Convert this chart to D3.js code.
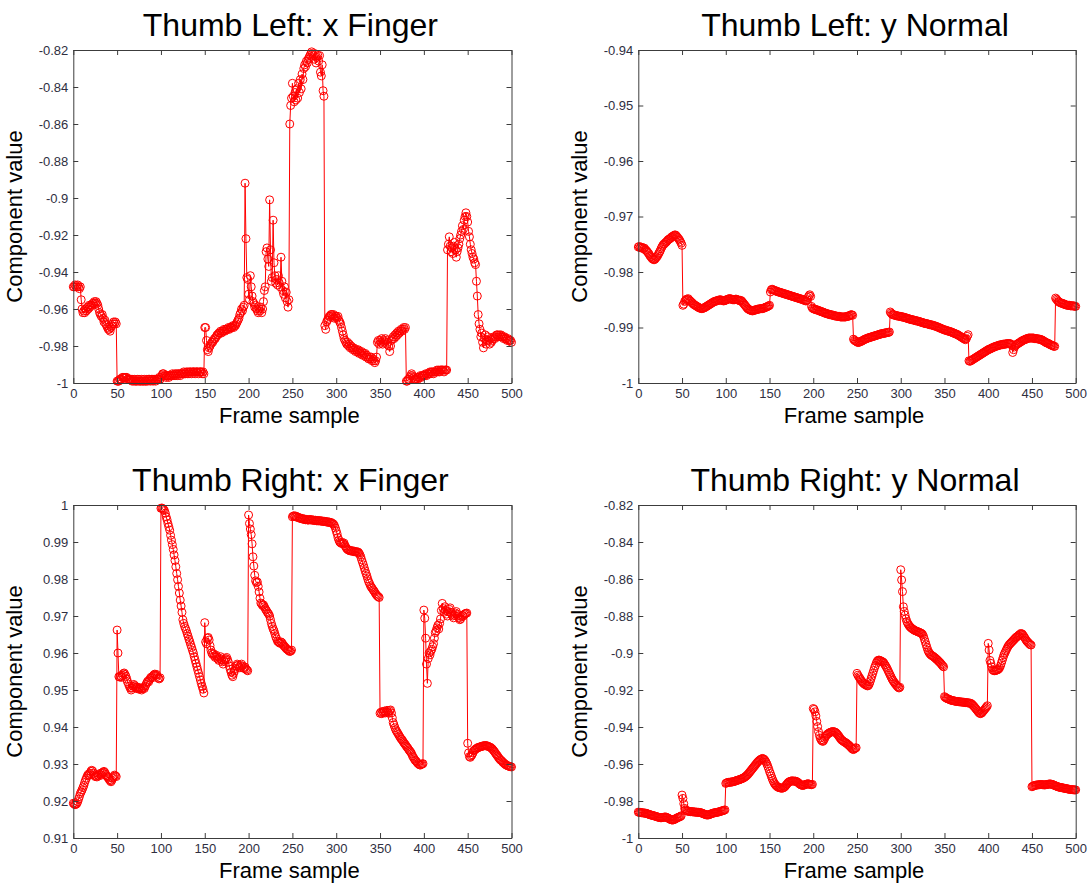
<!DOCTYPE html>
<html>
<head>
<meta charset="utf-8">
<script src="https://cdn.jsdelivr.net/npm/d3@7"></script>
<style>
  body { margin: 0; background: #ffffff; }
  svg { display: block; }
</style>
</head>
<body>
<svg id="fig" width="1090" height="884"></svg>
<script>
// Frame sample index, one reading per frame
const frames = d3.range(0, 501);

// Thumb Left: x Finger component
const thumbLeftX = [
  -0.948,-0.948,-0.947,-0.948,-0.948,-0.947,-0.948,-0.949,-0.948,-0.955,
  -0.960,-0.962,-0.961,-0.962,-0.960,-0.961,-0.959,-0.960,-0.958,-0.959,
  -0.958,-0.958,-0.957,-0.957,-0.956,-0.957,-0.956,-0.957,-0.958,-0.960,
  -0.962,-0.963,-0.964,-0.963,-0.965,-0.967,-0.966,-0.968,-0.969,-0.970,
  -0.971,-0.971,-0.972,-0.970,-0.969,-0.968,-0.967,-0.968,-0.967,-0.968,
  -0.999,-0.999,-0.999,-0.998,-0.998,-0.998,-0.997,-0.997,-0.997,-0.997,
  -0.997,-0.997,-0.998,-0.998,-0.998,-0.998,-0.998,-0.999,-0.998,-0.999,
  -0.998,-0.999,-0.999,-0.998,-0.999,-0.998,-0.999,-0.999,-0.998,-0.999,
  -0.999,-0.998,-0.999,-0.999,-0.998,-0.999,-0.998,-0.998,-0.999,-0.998,
  -0.998,-0.999,-0.998,-0.998,-0.999,-0.998,-0.998,-0.998,-0.997,-0.998,
  -0.997,-0.996,-0.995,-0.995,-0.996,-0.996,-0.997,-0.996,-0.996,-0.997,
  -0.996,-0.996,-0.996,-0.995,-0.996,-0.996,-0.995,-0.996,-0.995,-0.996,
  -0.995,-0.995,-0.996,-0.995,-0.995,-0.995,-0.994,-0.995,-0.995,-0.994,
  -0.995,-0.994,-0.995,-0.994,-0.994,-0.995,-0.994,-0.994,-0.994,-0.995,
  -0.994,-0.994,-0.994,-0.995,-0.994,-0.994,-0.994,-0.995,-0.994,-0.995,
  -0.970,-0.970,-0.977,-0.982,-0.983,-0.981,-0.980,-0.979,-0.978,-0.978,
  -0.977,-0.976,-0.976,-0.975,-0.974,-0.974,-0.973,-0.973,-0.972,-0.973,
  -0.972,-0.972,-0.971,-0.972,-0.971,-0.971,-0.971,-0.970,-0.971,-0.970,
  -0.970,-0.970,-0.969,-0.970,-0.969,-0.969,-0.968,-0.967,-0.966,-0.965,
  -0.963,-0.962,-0.960,-0.961,-0.959,-0.958,-0.892,-0.922,-0.943,-0.944,
  -0.952,-0.955,-0.942,-0.948,-0.953,-0.956,-0.957,-0.959,-0.958,-0.960,
  -0.961,-0.962,-0.960,-0.961,-0.959,-0.962,-0.960,-0.956,-0.950,-0.948,
  -0.929,-0.927,-0.933,-0.937,-0.901,-0.928,-0.945,-0.943,-0.912,-0.935,
  -0.942,-0.946,-0.944,-0.947,-0.942,-0.946,-0.948,-0.932,-0.945,-0.950,
  -0.952,-0.948,-0.954,-0.951,-0.956,-0.959,-0.955,-0.860,-0.850,-0.846,
  -0.838,-0.845,-0.848,-0.843,-0.847,-0.841,-0.846,-0.838,-0.843,-0.836,
  -0.841,-0.833,-0.836,-0.830,-0.828,-0.829,-0.826,-0.827,-0.825,-0.824,
  -0.823,-0.822,-0.821,-0.822,-0.823,-0.825,-0.822,-0.827,-0.824,-0.823,
  -0.826,-0.823,-0.832,-0.834,-0.828,-0.842,-0.845,-0.969,-0.971,-0.967,
  -0.966,-0.965,-0.964,-0.964,-0.963,-0.963,-0.964,-0.963,-0.965,-0.964,
  -0.964,-0.965,-0.964,-0.966,-0.967,-0.968,-0.970,-0.972,-0.974,-0.976,
  -0.977,-0.978,-0.979,-0.978,-0.980,-0.979,-0.981,-0.980,-0.981,-0.982,
  -0.981,-0.982,-0.983,-0.982,-0.983,-0.982,-0.984,-0.983,-0.984,-0.983,
  -0.985,-0.984,-0.985,-0.984,-0.986,-0.985,-0.986,-0.987,-0.986,-0.987,
  -0.986,-0.988,-0.987,-0.988,-0.989,-0.988,-0.986,-0.978,-0.977,-0.979,
  -0.977,-0.978,-0.976,-0.979,-0.977,-0.978,-0.976,-0.977,-0.979,-0.978,
  -0.980,-0.983,-0.980,-0.977,-0.976,-0.975,-0.976,-0.974,-0.975,-0.973,
  -0.974,-0.972,-0.973,-0.972,-0.971,-0.972,-0.971,-0.970,-0.971,-0.970,
  -0.999,-0.999,-0.998,-0.998,-0.997,-0.996,-0.995,-0.996,-0.997,-0.998,
  -0.998,-0.998,-0.997,-0.998,-0.997,-0.997,-0.996,-0.997,-0.996,-0.996,
  -0.996,-0.996,-0.995,-0.996,-0.995,-0.995,-0.995,-0.994,-0.995,-0.994,
  -0.994,-0.995,-0.994,-0.994,-0.994,-0.993,-0.994,-0.993,-0.994,-0.993,
  -0.993,-0.993,-0.993,-0.994,-0.993,-0.993,-0.993,-0.928,-0.925,-0.921,
  -0.926,-0.929,-0.927,-0.930,-0.926,-0.924,-0.928,-0.932,-0.929,-0.927,
  -0.925,-0.922,-0.920,-0.918,-0.915,-0.917,-0.912,-0.910,-0.908,-0.910,
  -0.913,-0.918,-0.921,-0.925,-0.928,-0.930,-0.932,-0.933,-0.935,-0.936,
  -0.945,-0.953,-0.963,-0.968,-0.971,-0.975,-0.973,-0.978,-0.981,-0.976,
  -0.974,-0.979,-0.977,-0.975,-0.977,-0.979,-0.976,-0.978,-0.977,-0.976,
  -0.975,-0.976,-0.975,-0.974,-0.974,-0.975,-0.974,-0.975,-0.974,-0.975,
  -0.975,-0.976,-0.975,-0.976,-0.976,-0.977,-0.976,-0.977,-0.977,-0.977,-0.978
];

// Thumb Left: y Normal component
const thumbLeftY = [
  -0.9755,-0.9754,-0.9756,-0.9755,-0.9757,-0.9756,-0.9758,-0.9757,-0.9760,-0.9761,
  -0.9763,-0.9765,-0.9767,-0.9770,-0.9772,-0.9774,-0.9776,-0.9777,-0.9778,-0.9777,
  -0.9775,-0.9773,-0.9771,-0.9768,-0.9765,-0.9762,-0.9758,-0.9755,-0.9752,-0.9750,
  -0.9749,-0.9747,-0.9746,-0.9744,-0.9742,-0.9741,-0.9740,-0.9739,-0.9737,-0.9736,
  -0.9735,-0.9734,-0.9733,-0.9734,-0.9736,-0.9738,-0.9740,-0.9742,-0.9745,-0.9748,
  -0.9752,-0.9860,-0.9858,-0.9853,-0.9851,-0.9849,-0.9850,-0.9848,-0.9850,-0.9852,
  -0.9853,-0.9855,-0.9856,-0.9858,-0.9859,-0.9860,-0.9861,-0.9862,-0.9863,-0.9864,
  -0.9865,-0.9865,-0.9866,-0.9866,-0.9865,-0.9865,-0.9864,-0.9863,-0.9862,-0.9861,
  -0.9860,-0.9859,-0.9858,-0.9857,-0.9856,-0.9855,-0.9854,-0.9853,-0.9853,-0.9852,
  -0.9852,-0.9851,-0.9851,-0.9850,-0.9850,-0.9851,-0.9851,-0.9852,-0.9852,-0.9851,
  -0.9851,-0.9850,-0.9849,-0.9849,-0.9848,-0.9848,-0.9849,-0.9849,-0.9850,-0.9850,
  -0.9850,-0.9849,-0.9849,-0.9850,-0.9850,-0.9851,-0.9852,-0.9851,-0.9852,-0.9854,
  -0.9856,-0.9858,-0.9860,-0.9862,-0.9864,-0.9866,-0.9867,-0.9868,-0.9869,-0.9869,
  -0.9870,-0.9870,-0.9869,-0.9869,-0.9868,-0.9868,-0.9867,-0.9867,-0.9867,-0.9866,
  -0.9866,-0.9866,-0.9866,-0.9865,-0.9865,-0.9864,-0.9863,-0.9863,-0.9862,-0.9861,
  -0.9860,-0.9836,-0.9832,-0.9831,-0.9832,-0.9833,-0.9833,-0.9834,-0.9835,-0.9835,
  -0.9836,-0.9836,-0.9837,-0.9837,-0.9838,-0.9838,-0.9839,-0.9839,-0.9840,-0.9840,
  -0.9841,-0.9841,-0.9842,-0.9842,-0.9843,-0.9843,-0.9844,-0.9844,-0.9845,-0.9845,
  -0.9846,-0.9846,-0.9847,-0.9847,-0.9848,-0.9848,-0.9849,-0.9849,-0.9850,-0.9850,
  -0.9851,-0.9852,-0.9852,-0.9850,-0.9846,-0.9843,-0.9841,-0.9844,-0.9862,-0.9865,
  -0.9866,-0.9867,-0.9867,-0.9868,-0.9868,-0.9869,-0.9869,-0.9870,-0.9871,-0.9871,
  -0.9872,-0.9872,-0.9873,-0.9874,-0.9874,-0.9875,-0.9875,-0.9876,-0.9876,-0.9877,
  -0.9877,-0.9877,-0.9878,-0.9878,-0.9879,-0.9879,-0.9879,-0.9880,-0.9880,-0.9880,
  -0.9880,-0.9881,-0.9881,-0.9881,-0.9881,-0.9881,-0.9881,-0.9881,-0.9880,-0.9880,
  -0.9880,-0.9879,-0.9878,-0.9877,-0.9877,-0.9878,-0.9921,-0.9923,-0.9924,-0.9925,
  -0.9926,-0.9927,-0.9927,-0.9926,-0.9925,-0.9925,-0.9924,-0.9923,-0.9922,-0.9921,
  -0.9921,-0.9920,-0.9919,-0.9919,-0.9918,-0.9918,-0.9917,-0.9917,-0.9916,-0.9916,
  -0.9915,-0.9915,-0.9914,-0.9914,-0.9913,-0.9913,-0.9912,-0.9912,-0.9911,-0.9911,
  -0.9911,-0.9910,-0.9910,-0.9910,-0.9909,-0.9909,-0.9909,-0.9908,-0.9872,-0.9874,
  -0.9876,-0.9877,-0.9877,-0.9878,-0.9878,-0.9879,-0.9879,-0.9879,-0.9880,-0.9880,
  -0.9880,-0.9881,-0.9881,-0.9881,-0.9882,-0.9882,-0.9883,-0.9883,-0.9884,-0.9884,
  -0.9885,-0.9885,-0.9886,-0.9886,-0.9886,-0.9887,-0.9887,-0.9888,-0.9888,-0.9888,
  -0.9889,-0.9889,-0.9890,-0.9890,-0.9891,-0.9891,-0.9892,-0.9892,-0.9893,-0.9893,
  -0.9893,-0.9894,-0.9894,-0.9895,-0.9895,-0.9895,-0.9896,-0.9896,-0.9897,-0.9897,
  -0.9898,-0.9898,-0.9899,-0.9900,-0.9900,-0.9901,-0.9902,-0.9902,-0.9903,-0.9904,
  -0.9904,-0.9905,-0.9905,-0.9906,-0.9906,-0.9907,-0.9907,-0.9908,-0.9908,-0.9909,
  -0.9910,-0.9910,-0.9911,-0.9912,-0.9912,-0.9913,-0.9914,-0.9915,-0.9916,-0.9917,
  -0.9918,-0.9919,-0.9920,-0.9921,-0.9922,-0.9920,-0.9916,-0.9913,-0.9960,-0.9961,
  -0.9960,-0.9959,-0.9958,-0.9957,-0.9956,-0.9955,-0.9954,-0.9953,-0.9952,-0.9951,
  -0.9950,-0.9949,-0.9948,-0.9947,-0.9946,-0.9945,-0.9944,-0.9943,-0.9942,-0.9941,
  -0.9940,-0.9939,-0.9939,-0.9938,-0.9937,-0.9936,-0.9936,-0.9935,-0.9934,-0.9934,
  -0.9933,-0.9933,-0.9932,-0.9932,-0.9931,-0.9931,-0.9931,-0.9930,-0.9930,-0.9930,
  -0.9930,-0.9929,-0.9929,-0.9929,-0.9929,-0.9929,-0.9930,-0.9932,-0.9945,-0.9940,
  -0.9935,-0.9933,-0.9931,-0.9930,-0.9929,-0.9928,-0.9927,-0.9926,-0.9925,-0.9924,
  -0.9923,-0.9922,-0.9922,-0.9921,-0.9920,-0.9920,-0.9919,-0.9919,-0.9919,-0.9919,
  -0.9919,-0.9919,-0.9919,-0.9920,-0.9920,-0.9920,-0.9920,-0.9921,-0.9921,-0.9921,
  -0.9922,-0.9922,-0.9923,-0.9924,-0.9925,-0.9926,-0.9927,-0.9928,-0.9928,-0.9929,
  -0.9930,-0.9931,-0.9932,-0.9932,-0.9933,-0.9934,-0.9934,-0.9847,-0.9849,-0.9851,
  -0.9853,-0.9854,-0.9855,-0.9856,-0.9856,-0.9857,-0.9857,-0.9858,-0.9859,-0.9859,
  -0.9860,-0.9860,-0.9860,-0.9860,-0.9861,-0.9861,-0.9861,-0.9861,-0.9861,-0.9862,-0.9862
];

// Thumb Right: x Finger component
const thumbRightX = [
  0.9194,0.9192,0.9190,0.9191,0.9193,0.9198,0.9205,0.9212,0.9220,0.9225,
  0.9230,0.9236,0.9242,0.9250,0.9257,0.9262,0.9268,0.9272,0.9270,0.9275,
  0.9280,0.9283,0.9281,0.9275,0.9270,0.9266,0.9268,0.9265,0.9270,0.9268,
  0.9272,0.9275,0.9270,0.9276,0.9278,0.9280,0.9277,0.9272,0.9268,0.9265,
  0.9262,0.9258,0.9255,0.9252,0.9256,0.9262,0.9266,0.9270,0.9268,0.9266,
  0.9662,0.9600,0.9536,0.9535,0.9538,0.9534,0.9540,0.9544,0.9546,0.9542,
  0.9537,0.9530,0.9522,0.9516,0.9510,0.9505,0.9500,0.9505,0.9510,0.9515,
  0.9512,0.9508,0.9504,0.9508,0.9505,0.9502,0.9506,0.9503,0.9500,0.9504,
  0.9507,0.9504,0.9510,0.9515,0.9520,0.9524,0.9522,0.9528,0.9532,0.9535,
  0.9533,0.9538,0.9541,0.9543,0.9540,0.9542,0.9537,0.9532,0.9530,0.9533,
  0.9991,0.9992,0.9990,0.9988,0.9985,0.9978,0.9968,0.9960,0.9950,0.9941,
  0.9932,0.9918,0.9905,0.9893,0.9880,0.9865,0.9850,0.9833,0.9815,0.9798,
  0.9780,0.9762,0.9743,0.9727,0.9710,0.9690,0.9680,0.9672,0.9666,0.9660,
  0.9652,0.9645,0.9637,0.9630,0.9622,0.9615,0.9607,0.9600,0.9590,0.9581,
  0.9572,0.9563,0.9554,0.9545,0.9536,0.9527,0.9518,0.9510,0.9502,0.9492,
  0.9682,0.9630,0.9625,0.9640,0.9642,0.9635,0.9620,0.9608,0.9600,0.9596,
  0.9598,0.9592,0.9588,0.9594,0.9590,0.9584,0.9580,0.9586,0.9590,0.9582,
  0.9576,0.9570,0.9578,0.9582,0.9585,0.9588,0.9582,0.9575,0.9565,0.9556,
  0.9548,0.9540,0.9536,0.9545,0.9552,0.9558,0.9565,0.9570,0.9567,0.9562,
  0.9560,0.9566,0.9570,0.9565,0.9560,0.9558,0.9562,0.9557,0.9554,0.9552,
  0.9973,0.9950,0.9935,0.9920,0.9895,0.9860,0.9835,0.9810,0.9795,0.9790,
  0.9792,0.9780,0.9765,0.9748,0.9735,0.9732,0.9728,0.9730,0.9725,0.9720,
  0.9716,0.9712,0.9708,0.9705,0.9700,0.9690,0.9680,0.9672,0.9665,0.9660,
  0.9652,0.9644,0.9638,0.9632,0.9630,0.9628,0.9626,0.9630,0.9628,0.9624,
  0.9620,0.9618,0.9615,0.9612,0.9610,0.9608,0.9606,0.9604,0.9605,0.9608,
  0.9968,0.9970,0.9971,0.9969,0.9970,0.9968,0.9966,0.9967,0.9965,0.9964,
  0.9963,0.9964,0.9962,0.9961,0.9962,0.9960,0.9961,0.9960,0.9959,0.9960,
  0.9961,0.9960,0.9959,0.9960,0.9959,0.9958,0.9959,0.9958,0.9957,0.9958,
  0.9957,0.9958,0.9957,0.9956,0.9957,0.9956,0.9955,0.9956,0.9955,0.9954,
  0.9955,0.9953,0.9954,0.9952,0.9953,0.9951,0.9950,0.9948,0.9944,0.9938,
  0.9930,0.9922,0.9912,0.9905,0.9900,0.9898,0.9896,0.9899,0.9895,0.9897,
  0.9890,0.9886,0.9882,0.9880,0.9878,0.9877,0.9876,0.9877,0.9875,0.9876,
  0.9874,0.9875,0.9873,0.9874,0.9872,0.9873,0.9870,0.9866,0.9860,0.9852,
  0.9845,0.9838,0.9830,0.9822,0.9815,0.9808,0.9800,0.9793,0.9788,0.9782,
  0.9778,0.9775,0.9771,0.9768,0.9764,0.9760,0.9757,0.9754,0.9752,0.9750,
  0.9437,0.9440,0.9436,0.9442,0.9439,0.9443,0.9438,0.9441,0.9445,0.9440,
  0.9437,0.9444,0.9446,0.9438,0.9425,0.9412,0.9405,0.9398,0.9392,0.9388,
  0.9384,0.9380,0.9376,0.9372,0.9368,0.9366,0.9362,0.9358,0.9355,0.9352,
  0.9348,0.9345,0.9342,0.9338,0.9335,0.9332,0.9328,0.9322,0.9318,0.9314,
  0.9310,0.9308,0.9305,0.9302,0.9300,0.9298,0.9297,0.9299,0.9300,0.9301,
  0.9716,0.9694,0.9640,0.9570,0.9518,0.9585,0.9600,0.9595,0.9605,0.9610,
  0.9617,0.9625,0.9640,0.9655,0.9660,0.9668,0.9675,0.9665,0.9680,0.9692,
  0.9715,0.9734,0.9720,0.9710,0.9725,0.9715,0.9705,0.9700,0.9712,0.9718,
  0.9722,0.9710,0.9705,0.9700,0.9695,0.9702,0.9708,0.9712,0.9705,0.9700,
  0.9695,0.9690,0.9692,0.9698,0.9702,0.9700,0.9704,0.9706,0.9707,0.9708,
  0.9356,0.9330,0.9320,0.9318,0.9322,0.9325,0.9330,0.9336,0.9338,0.9340,
  0.9342,0.9343,0.9345,0.9345,0.9346,0.9347,0.9348,0.9348,0.9349,0.9350,
  0.9349,0.9350,0.9349,0.9348,0.9347,0.9346,0.9345,0.9343,0.9341,0.9338,
  0.9335,0.9332,0.9328,0.9325,0.9322,0.9318,0.9315,0.9312,0.9310,0.9308,
  0.9305,0.9303,0.9301,0.9299,0.9297,0.9296,0.9295,0.9294,0.9293,0.9293,0.9292
];

// Thumb Right: y Normal component
const thumbRightY = [
  -0.9860,-0.9862,-0.9861,-0.9863,-0.9864,-0.9863,-0.9865,-0.9866,-0.9865,-0.9867,
  -0.9868,-0.9870,-0.9872,-0.9874,-0.9875,-0.9876,-0.9878,-0.9879,-0.9880,-0.9882,
  -0.9883,-0.9885,-0.9886,-0.9888,-0.9889,-0.9890,-0.9891,-0.9890,-0.9889,-0.9888,
  -0.9887,-0.9886,-0.9888,-0.9890,-0.9892,-0.9895,-0.9898,-0.9900,-0.9902,-0.9903,
  -0.9902,-0.9900,-0.9898,-0.9895,-0.9892,-0.9890,-0.9888,-0.9886,-0.9884,-0.9880,
  -0.9768,-0.9786,-0.9815,-0.9840,-0.9848,-0.9852,-0.9854,-0.9856,-0.9855,-0.9857,
  -0.9858,-0.9857,-0.9859,-0.9858,-0.9860,-0.9859,-0.9861,-0.9860,-0.9862,-0.9861,
  -0.9862,-0.9863,-0.9864,-0.9866,-0.9868,-0.9870,-0.9872,-0.9874,-0.9875,-0.9876,
  -0.9875,-0.9874,-0.9872,-0.9870,-0.9868,-0.9866,-0.9865,-0.9864,-0.9863,-0.9862,
  -0.9861,-0.9860,-0.9859,-0.9858,-0.9856,-0.9854,-0.9853,-0.9852,-0.9850,-0.9848,
  -0.9705,-0.9702,-0.9700,-0.9699,-0.9700,-0.9698,-0.9697,-0.9698,-0.9696,-0.9695,
  -0.9694,-0.9692,-0.9690,-0.9688,-0.9687,-0.9686,-0.9684,-0.9682,-0.9680,-0.9678,
  -0.9676,-0.9673,-0.9670,-0.9666,-0.9662,-0.9657,-0.9652,-0.9646,-0.9640,-0.9634,
  -0.9628,-0.9622,-0.9616,-0.9610,-0.9604,-0.9598,-0.9592,-0.9587,-0.9582,-0.9578,
  -0.9575,-0.9572,-0.9570,-0.9572,-0.9576,-0.9582,-0.9590,-0.9600,-0.9612,-0.9625,
  -0.9640,-0.9652,-0.9665,-0.9678,-0.9690,-0.9700,-0.9708,-0.9714,-0.9719,-0.9723,
  -0.9726,-0.9728,-0.9729,-0.9730,-0.9731,-0.9730,-0.9728,-0.9725,-0.9720,-0.9714,
  -0.9708,-0.9702,-0.9698,-0.9695,-0.9693,-0.9692,-0.9691,-0.9692,-0.9693,-0.9692,
  -0.9693,-0.9695,-0.9698,-0.9702,-0.9706,-0.9710,-0.9713,-0.9715,-0.9716,-0.9715,
  -0.9713,-0.9711,-0.9709,-0.9708,-0.9707,-0.9708,-0.9710,-0.9711,-0.9712,-0.9710,
  -0.9300,-0.9305,-0.9318,-0.9340,-0.9370,-0.9398,-0.9425,-0.9445,-0.9460,-0.9470,
  -0.9475,-0.9478,-0.9472,-0.9462,-0.9452,-0.9445,-0.9440,-0.9436,-0.9433,-0.9430,
  -0.9428,-0.9426,-0.9425,-0.9425,-0.9426,-0.9428,-0.9431,-0.9436,-0.9442,-0.9448,
  -0.9455,-0.9462,-0.9468,-0.9472,-0.9476,-0.9479,-0.9482,-0.9485,-0.9488,-0.9492,
  -0.9496,-0.9500,-0.9505,-0.9510,-0.9515,-0.9520,-0.9522,-0.9518,-0.9514,-0.9512,
  -0.9110,-0.9120,-0.9128,-0.9135,-0.9142,-0.9150,-0.9156,-0.9162,-0.9166,-0.9170,
  -0.9172,-0.9175,-0.9178,-0.9176,-0.9168,-0.9155,-0.9140,-0.9125,-0.9110,-0.9095,
  -0.9080,-0.9068,-0.9055,-0.9045,-0.9040,-0.9038,-0.9040,-0.9042,-0.9045,-0.9047,
  -0.9050,-0.9056,-0.9064,-0.9072,-0.9080,-0.9090,-0.9100,-0.9110,-0.9120,-0.9130,
  -0.9140,-0.9148,-0.9155,-0.9162,-0.9168,-0.9174,-0.9180,-0.9185,-0.9189,-0.9185,
  -0.8550,-0.8605,-0.8668,-0.8750,-0.8775,-0.8795,-0.8815,-0.8830,-0.8840,-0.8848,
  -0.8855,-0.8860,-0.8865,-0.8868,-0.8872,-0.8875,-0.8878,-0.8880,-0.8882,-0.8884,
  -0.8886,-0.8888,-0.8890,-0.8892,-0.8895,-0.8900,-0.8910,-0.8925,-0.8940,-0.8955,
  -0.8970,-0.8985,-0.8995,-0.9002,-0.9008,-0.9012,-0.9015,-0.9018,-0.9022,-0.9025,
  -0.9030,-0.9034,-0.9038,-0.9043,-0.9048,-0.9052,-0.9058,-0.9064,-0.9070,-0.9075,
  -0.9236,-0.9240,-0.9244,-0.9246,-0.9248,-0.9250,-0.9252,-0.9254,-0.9256,-0.9257,
  -0.9258,-0.9259,-0.9260,-0.9261,-0.9262,-0.9262,-0.9263,-0.9264,-0.9264,-0.9265,
  -0.9265,-0.9266,-0.9266,-0.9267,-0.9268,-0.9268,-0.9269,-0.9270,-0.9270,-0.9271,
  -0.9272,-0.9275,-0.9280,-0.9285,-0.9290,-0.9296,-0.9302,-0.9308,-0.9314,-0.9320,
  -0.9325,-0.9328,-0.9326,-0.9322,-0.9316,-0.9310,-0.9304,-0.9298,-0.9292,-0.9285,
  -0.8948,-0.8984,-0.9040,-0.9056,-0.9075,-0.9090,-0.9095,-0.9096,-0.9095,-0.9094,
  -0.9092,-0.9090,-0.9086,-0.9080,-0.9070,-0.9055,-0.9040,-0.9025,-0.9010,-0.9000,
  -0.8990,-0.8980,-0.8970,-0.8962,-0.8955,-0.8950,-0.8945,-0.8940,-0.8935,-0.8930,
  -0.8925,-0.8920,-0.8915,-0.8912,-0.8908,-0.8904,-0.8900,-0.8896,-0.8895,-0.8898,
  -0.8905,-0.8912,-0.8920,-0.8928,-0.8935,-0.8940,-0.8945,-0.8950,-0.8955,-0.8957,
  -0.9723,-0.9720,-0.9718,-0.9716,-0.9715,-0.9714,-0.9713,-0.9713,-0.9712,-0.9712,
  -0.9711,-0.9711,-0.9712,-0.9712,-0.9713,-0.9713,-0.9712,-0.9711,-0.9710,-0.9709,
  -0.9708,-0.9708,-0.9709,-0.9710,-0.9712,-0.9714,-0.9716,-0.9718,-0.9720,-0.9722,
  -0.9724,-0.9725,-0.9726,-0.9727,-0.9728,-0.9729,-0.9730,-0.9731,-0.9732,-0.9733,
  -0.9734,-0.9735,-0.9736,-0.9737,-0.9738,-0.9738,-0.9739,-0.9739,-0.9740,-0.9740,-0.9740
];

// Tick positions
const frameTicks = [0, 50, 100, 150, 200, 250, 300, 350, 400, 450, 500];
const ticksLeftX = [-1, -0.98, -0.96, -0.94, -0.92, -0.9, -0.88, -0.86, -0.84, -0.82];
const ticksLeftY = [-1, -0.99, -0.98, -0.97, -0.96, -0.95, -0.94];
const ticksRightX = [0.91, 0.92, 0.93, 0.94, 0.95, 0.96, 0.97, 0.98, 0.99, 1];
const ticksRightY = [-1, -0.98, -0.96, -0.94, -0.92, -0.9, -0.88, -0.86, -0.84, -0.82];

const titles = ["Thumb Left: x Finger", "Thumb Left: y Normal", "Thumb Right: x Finger", "Thumb Right: y Normal"];
const xLabel = "Frame sample";
const yLabel = "Component value";

// Subplot layout
const colX = [[73.3, 511.5], [638.3, 1075.7]];
const rowY = [[50, 383], [505, 838]];
const panels = [
  { title: titles[0], values: thumbLeftX,  ticks: ticksLeftX,  col: 0, row: 0 },
  { title: titles[1], values: thumbLeftY,  ticks: ticksLeftY,  col: 1, row: 0 },
  { title: titles[2], values: thumbRightX, ticks: ticksRightX, col: 0, row: 1 },
  { title: titles[3], values: thumbRightY, ticks: ticksRightY, col: 1, row: 1 }
];

const FONT = "'Liberation Sans', Arial, Helvetica, sans-serif";
const RED = "#ff0000";
const AXIS = "#3c3c3c";
const TICKTEXT = "#2f2f3f";
const fmt = v => String(+v.toFixed(2));

const svg = d3.select("#fig");
svg.append("rect").attr("width", 1090).attr("height", 884).attr("fill", "#ffffff");

panels.forEach(p => {
  const [x0, x1] = colX[p.col];
  const [y0, y1] = rowY[p.row];
  const x = d3.scaleLinear().domain([0, 500]).range([x0, x1]);
  const y = d3.scaleLinear().domain(d3.extent(p.ticks)).range([y1, y0]);
  const g = svg.append("g");

  // Series line and circle markers
  const line = d3.line().x((d, i) => x(frames[i])).y(d => y(d));
  g.append("path")
    .datum(p.values)
    .attr("d", line)
    .attr("fill", "none")
    .attr("stroke", RED)
    .attr("stroke-width", 1);
  g.append("g").selectAll("circle")
    .data(p.values)
    .join("circle")
    .attr("cx", (d, i) => x(frames[i]))
    .attr("cy", d => y(d))
    .attr("r", 4)
    .attr("fill", "none")
    .attr("stroke", RED)
    .attr("stroke-width", 1);

  // Box axes with inward ticks
  const bottom = g.append("g").attr("transform", `translate(0,${y1})`)
    .call(d3.axisBottom(x).tickValues(frameTicks).tickSize(-5).tickSizeOuter(0).tickPadding(6).tickFormat(d3.format("d")));
  const top = g.append("g").attr("transform", `translate(0,${y0})`)
    .call(d3.axisTop(x).tickValues(frameTicks).tickSize(-5).tickSizeOuter(0).tickFormat(""));
  const left = g.append("g").attr("transform", `translate(${x0},0)`)
    .call(d3.axisLeft(y).tickValues(p.ticks).tickSize(-5).tickSizeOuter(0).tickPadding(5).tickFormat(fmt));
  const right = g.append("g").attr("transform", `translate(${x1},0)`)
    .call(d3.axisRight(y).tickValues(p.ticks).tickSize(-5).tickSizeOuter(0).tickFormat(""));

  [bottom, top, left, right].forEach(a => {
    a.selectAll("path.domain").attr("stroke", AXIS).attr("stroke-width", 1);
    a.selectAll(".tick line").attr("stroke", AXIS).attr("stroke-width", 1);
    a.selectAll(".tick text").attr("fill", TICKTEXT).style("font-family", FONT).style("font-size", "13px");
  });

  // Title and axis labels
  svg.append("text")
    .attr("x", (x0 + x1) / 2 - 2).attr("y", y0 - 14)
    .attr("text-anchor", "middle")
    .style("font-family", FONT).style("font-size", "32px")
    .attr("fill", "#000")
    .text(p.title);
  svg.append("text")
    .attr("x", (x0 + x1) / 2 - 3).attr("y", y1 + 40)
    .attr("text-anchor", "middle")
    .style("font-family", FONT).style("font-size", "22px")
    .attr("fill", "#000")
    .text(xLabel);
  svg.append("text")
    .attr("transform", `translate(${x0 - 51},${(y0 + y1) / 2}) rotate(-90)`)
    .attr("text-anchor", "middle")
    .style("font-family", FONT).style("font-size", "22px")
    .attr("fill", "#000")
    .text(yLabel);
});
</script>
</body>
</html>
